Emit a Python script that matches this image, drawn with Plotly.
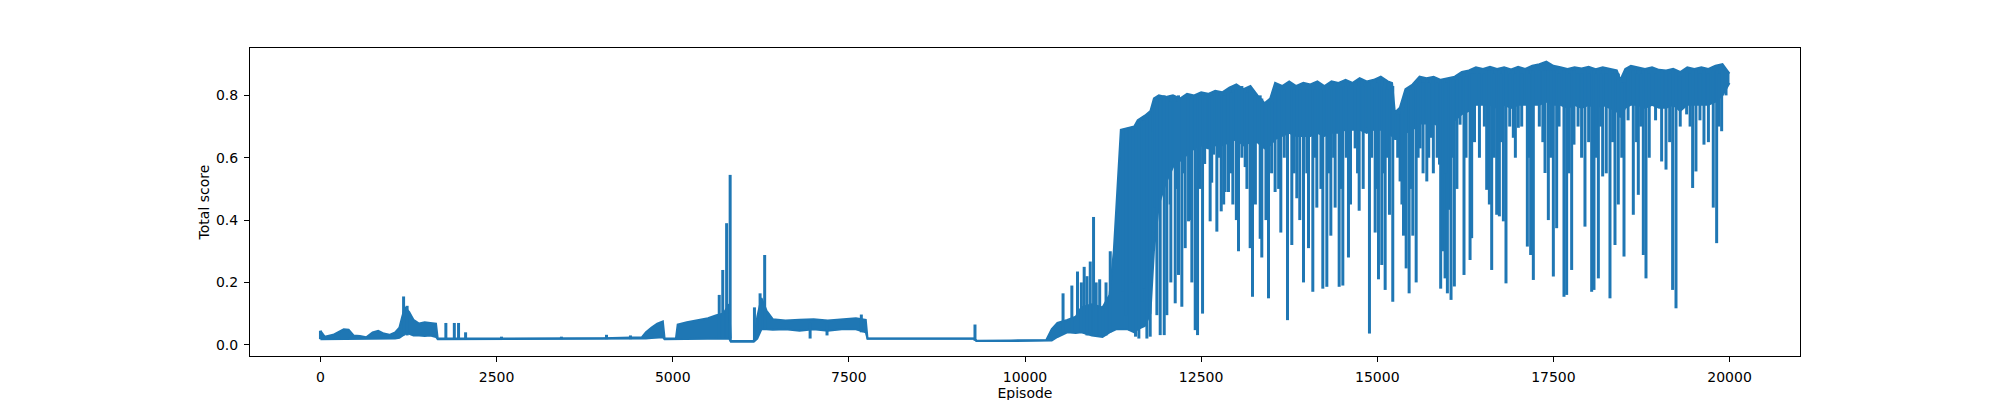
import plotly.graph_objects as go

LINE = "#1f77b4"
FONT = "DejaVu Sans, Arial, sans-serif"

# ---------------------------------------------------------------- data
# solid core of the trace: upper and lower edge of the dense band
band_ep = [
    0, 60, 180, 260, 330, 400, 470, 560, 650, 740,
    820, 900, 980, 1060, 1120, 1160, 1200, 1260, 1320, 1400,
    1480, 1560, 1640, 1665, 2200, 3000, 4000, 4560, 4620, 4700,
    4780, 4860, 4885, 5045, 5070, 5200, 5350, 5500, 5620, 5720,
    5800, 5825, 6150, 6200, 6260, 6330, 6420, 6600, 6800, 7000,
    7200, 7400, 7600, 7740, 7765, 9280, 9310, 9800, 10300, 10380,
    10460, 10600, 10720, 10800, 10950, 11100, 11200, 11260, 11300, 11340,
    11360, 11450, 11550, 11600, 11700, 11780, 11830, 11900, 12000, 12100,
    12200, 12300, 12400, 12500, 12600, 12700, 12800, 12900, 13000, 13100,
    13200, 13300, 13400, 13480, 13550, 13650, 13750, 13850, 13950, 14050,
    14150, 14250, 14350, 14450, 14550, 14650, 14750, 14850, 14950, 15050,
    15150, 15210, 15250, 15320, 15400, 15500, 15600, 15700, 15800, 15900,
    16000, 16100, 16200, 16300, 16400, 16500, 16600, 16700, 16800, 16900,
    17000, 17100, 17200, 17300, 17400, 17500, 17600, 17700, 17800, 17900,
    18000, 18100, 18200, 18300, 18400, 18450, 18520, 18600, 18700, 18800,
    18900, 19000, 19100, 19200, 19300, 19400, 19500, 19600, 19700, 19800,
    19900, 19999,
]
band_hi = [
    0.045, 0.026, 0.032, 0.042, 0.05, 0.048, 0.03, 0.028, 0.024, 0.04,
    0.045, 0.036, 0.032, 0.04, 0.055, 0.09, 0.12, 0.105, 0.08, 0.068,
    0.072, 0.07, 0.068, 0.02, 0.02, 0.021, 0.021, 0.024, 0.04, 0.055,
    0.068, 0.075, 0.02, 0.02, 0.065, 0.072, 0.078, 0.085, 0.095, 0.1,
    0.13, 0.012, 0.012, 0.09, 0.15, 0.11, 0.082, 0.078, 0.08, 0.082,
    0.078, 0.082, 0.085, 0.08, 0.02, 0.02, 0.013, 0.014, 0.015, 0.05,
    0.07, 0.08, 0.09, 0.12, 0.13, 0.12, 0.16, 0.3, 0.45, 0.62,
    0.69, 0.695, 0.7, 0.72, 0.735, 0.75, 0.79, 0.8, 0.795, 0.8,
    0.79, 0.805, 0.8, 0.81, 0.805, 0.815, 0.81, 0.825, 0.835, 0.82,
    0.83, 0.8, 0.775, 0.79, 0.84, 0.83, 0.845, 0.83, 0.84, 0.835,
    0.845, 0.83, 0.845, 0.84, 0.85, 0.84, 0.855, 0.845, 0.85, 0.86,
    0.845, 0.84, 0.745, 0.76, 0.82, 0.835, 0.86, 0.855, 0.86, 0.85,
    0.855, 0.86, 0.875, 0.88, 0.89, 0.885, 0.892, 0.885, 0.89, 0.883,
    0.892, 0.885, 0.895, 0.9, 0.908, 0.895, 0.89, 0.885, 0.89, 0.886,
    0.892, 0.884, 0.89, 0.886, 0.88, 0.85, 0.885, 0.895, 0.89, 0.885,
    0.89, 0.882, 0.88, 0.885, 0.875, 0.89, 0.885, 0.89, 0.885, 0.895,
    0.9, 0.87,
]
band_lo = [
    0.018, 0.018, 0.019, 0.02, 0.02, 0.02, 0.019, 0.018, 0.018, 0.02,
    0.02, 0.019, 0.019, 0.02, 0.022, 0.028, 0.035, 0.035, 0.03, 0.03,
    0.028, 0.03, 0.025, 0.018, 0.018, 0.018, 0.018, 0.019, 0.02, 0.022,
    0.024, 0.024, 0.018, 0.018, 0.018, 0.018, 0.018, 0.018, 0.018, 0.018,
    0.02, 0.01, 0.01, 0.02, 0.05, 0.05, 0.048, 0.05, 0.045, 0.05,
    0.045, 0.05, 0.05, 0.04, 0.019, 0.019, 0.012, 0.012, 0.012, 0.014,
    0.025, 0.04, 0.038, 0.04, 0.03, 0.025, 0.04, 0.045, 0.05, 0.05,
    0.05, 0.05, 0.04, 0.05, 0.06, 0.1, 0.3, 0.45, 0.52, 0.57,
    0.59, 0.61, 0.63, 0.64, 0.63, 0.64, 0.64, 0.65, 0.66, 0.64,
    0.65, 0.65, 0.63, 0.64, 0.66, 0.67, 0.68, 0.67, 0.67, 0.67,
    0.68, 0.67, 0.68, 0.68, 0.69, 0.69, 0.69, 0.68, 0.69, 0.69,
    0.68, 0.67, 0.66, 0.66, 0.68, 0.69, 0.71, 0.71, 0.71, 0.7,
    0.71, 0.72, 0.74, 0.75, 0.77, 0.77, 0.77, 0.76, 0.77, 0.76,
    0.77, 0.77, 0.77, 0.77, 0.78, 0.77, 0.77, 0.76, 0.77, 0.76,
    0.77, 0.76, 0.77, 0.76, 0.75, 0.73, 0.76, 0.77, 0.77, 0.76,
    0.77, 0.76, 0.76, 0.77, 0.75, 0.77, 0.77, 0.77, 0.77, 0.78,
    0.8, 0.84,
]

# single-episode excursions: peaks in the early part, dips later on
spike_ep = [
    0, 1180, 1230, 1780, 1900, 1960, 2060, 2570, 3420, 4060,
    4400, 5660, 5710, 5765, 5815, 6160, 6240, 6305, 6950, 7190,
    7677, 9290, 10540, 10665, 10745, 10840, 10926, 10973, 10800, 10880,
    11010, 11060, 11150, 11210,
    11389, 11436, 11484, 11531, 11569, 11616, 11659, 11692, 11730, 11777,
    11815, 11848, 11872, 11919, 11976, 12013, 12070, 12132, 12179, 12226,
    12274, 12321, 12368, 12416, 12449, 12520, 12572, 12628, 12676, 12723,
    12785, 12841, 12888, 12950, 13030, 13078, 13125, 13196, 13229, 13338,
    13361, 13456, 13550, 13631, 13726, 13787, 13858, 13953, 14024, 14085,
    14142, 14227, 14284, 14341, 14402, 14459, 14511, 14591, 14686, 14743,
    14828, 14889, 14970, 15017, 15064, 15112, 15173, 15220, 15324, 15372,
    15410, 15452, 15504, 15552, 15608, 15703, 15760, 15796, 15883, 15900,
    15938, 15962, 15995, 16023, 16047, 16094, 16175, 16231, 16317, 16340,
    16553, 16591, 16624, 16695, 16733, 16790, 16827, 16931, 17002, 17130,
    17177, 17215, 17381, 17428, 17499, 17546, 17650, 17688, 17759, 17792,
    17948, 18043, 18076, 18138, 18199, 18303, 18374, 18421, 18502, 18634,
    18705, 18776, 18814, 19036, 19098, 19192, 19240, 19391, 19476, 19523,
    19637, 19769, 19817, 19888,
    12060, 12150, 12250, 12350, 12480, 12550, 12650, 12750, 12820, 12920,
    13000, 13150, 13270, 13420, 13500, 13600, 13680, 13820, 13900, 14000,
    14110, 14200, 14310, 14380, 14480, 14560, 14620, 14720, 14800, 14920,
    15000, 15090, 15140, 15290, 15350, 15480, 15580, 15650, 15730, 15850,
    15980, 16070, 16130, 16260, 16380, 16450, 16520, 16660, 16760, 16880,
    16960, 17050, 17160, 17300, 17350, 17460, 17580, 17720, 17850, 17900,
    18000, 18110, 18170, 18250, 18340, 18470, 18560, 18680, 18740, 18860,
    18950, 19150, 19300, 19440, 19580, 19700, 19850, 19950,
]
spike_top = [
    0.045, 0.155, 0.125, 0.07, 0.07, 0.07, 0.04, 0.026, 0.026, 0.032,
    0.03, 0.16, 0.24, 0.39, 0.545, 0.12, 0.165, 0.288, 0.07, 0.07,
    0.097, 0.065, 0.165, 0.19, 0.235, 0.25, 0.267, 0.41, 0.2, 0.22,
    0.2, 0.21, 0.2, 0.3,
    0.69, 0.69, 0.69, 0.7, 0.7, 0.71, 0.72, 0.72, 0.73, 0.74,
    0.75, 0.78, 0.79, 0.79, 0.8, 0.79, 0.8, 0.79, 0.8, 0.79,
    0.8, 0.8, 0.8, 0.8, 0.8, 0.81, 0.8, 0.8, 0.81, 0.81,
    0.81, 0.81, 0.82, 0.82, 0.82, 0.83, 0.82, 0.82, 0.82, 0.8,
    0.79, 0.77, 0.83, 0.83, 0.84, 0.83, 0.83, 0.83, 0.83, 0.83,
    0.84, 0.83, 0.83, 0.84, 0.84, 0.83, 0.84, 0.84, 0.84, 0.85,
    0.84, 0.84, 0.85, 0.85, 0.85, 0.85, 0.84, 0.83, 0.74, 0.76,
    0.8, 0.82, 0.83, 0.84, 0.85, 0.85, 0.85, 0.85, 0.85, 0.85,
    0.85, 0.85, 0.85, 0.85, 0.85, 0.85, 0.86, 0.87, 0.87, 0.87,
    0.88, 0.88, 0.88, 0.88, 0.88, 0.88, 0.88, 0.88, 0.88, 0.88,
    0.88, 0.88, 0.88, 0.88, 0.88, 0.88, 0.88, 0.88, 0.88, 0.88,
    0.88, 0.88, 0.88, 0.88, 0.88, 0.88, 0.88, 0.87, 0.84, 0.88,
    0.88, 0.88, 0.88, 0.88, 0.88, 0.88, 0.88, 0.88, 0.88, 0.88,
    0.88, 0.88, 0.88, 0.88,
    0.78, 0.78, 0.79, 0.79, 0.8, 0.8, 0.8, 0.8, 0.8, 0.81,
    0.82, 0.81, 0.8, 0.77, 0.78, 0.82, 0.82, 0.82, 0.82, 0.82,
    0.82, 0.82, 0.82, 0.83, 0.83, 0.83, 0.83, 0.83, 0.83, 0.83,
    0.84, 0.83, 0.82, 0.74, 0.75, 0.82, 0.83, 0.84, 0.84, 0.84,
    0.84, 0.85, 0.85, 0.86, 0.87, 0.87, 0.87, 0.87, 0.87, 0.87,
    0.87, 0.87, 0.87, 0.88, 0.88, 0.88, 0.87, 0.87, 0.87, 0.87,
    0.87, 0.87, 0.87, 0.87, 0.87, 0.84, 0.87, 0.87, 0.87, 0.87,
    0.87, 0.87, 0.86, 0.87, 0.87, 0.87, 0.87, 0.88,
]
spike_bottom = [
    0.018, 0.03, 0.03, 0.018, 0.018, 0.018, 0.018, 0.018, 0.018, 0.018,
    0.018, 0.02, 0.02, 0.02, 0.02, 0.012, 0.05, 0.05, 0.02, 0.03,
    0.04, 0.013, 0.04, 0.04, 0.04, 0.04, 0.04, 0.03, 0.04, 0.03,
    0.03, 0.03, 0.03, 0.04,
    0.17, 0.095, 0.047, 0.2, 0.026, 0.02, 0.138, 0.18, 0.02, 0.026,
    0.685, 0.44, 0.095, 0.031, 0.031, 0.095, 0.2, 0.133, 0.224, 0.122,
    0.31, 0.396, 0.2, 0.047, 0.031, 0.1, 0.63, 0.396, 0.61, 0.363,
    0.428, 0.49, 0.49, 0.45, 0.3, 0.6, 0.57, 0.31, 0.154, 0.34,
    0.28, 0.149, 0.49, 0.36, 0.079, 0.32, 0.47, 0.2, 0.31, 0.17,
    0.44, 0.18, 0.186, 0.35, 0.44, 0.186, 0.19, 0.28, 0.63, 0.43,
    0.696, 0.036, 0.36, 0.21, 0.256, 0.176, 0.417, 0.138, 0.524, 0.35,
    0.245, 0.165, 0.35, 0.2, 0.63, 0.524, 0.664, 0.55, 0.578, 0.18,
    0.3, 0.213, 0.165, 0.433, 0.144, 0.187, 0.706, 0.224, 0.272, 0.342,
    0.497, 0.45, 0.24, 0.417, 0.412, 0.396, 0.197, 0.664, 0.696, 0.315,
    0.288, 0.208, 0.551, 0.4, 0.219, 0.374, 0.154, 0.16, 0.24, 0.642,
    0.379, 0.17, 0.176, 0.213, 0.54, 0.149, 0.32, 0.45, 0.283, 0.417,
    0.481, 0.288, 0.213, 0.588, 0.562, 0.176, 0.117, 0.739, 0.503, 0.556,
    0.642, 0.44, 0.326, 0.685,
    0.45, 0.5, 0.55, 0.4, 0.5, 0.58, 0.52, 0.6, 0.45, 0.55,
    0.4, 0.5, 0.45, 0.4, 0.55, 0.5, 0.6, 0.55, 0.4, 0.55,
    0.6, 0.5, 0.55, 0.6, 0.5, 0.6, 0.45, 0.55, 0.5, 0.6,
    0.5, 0.55, 0.6, 0.6, 0.45, 0.5, 0.6, 0.55, 0.6, 0.6,
    0.55, 0.6, 0.5, 0.6, 0.65, 0.6, 0.7, 0.6, 0.65, 0.7,
    0.6, 0.7, 0.6, 0.7, 0.65, 0.6, 0.7, 0.55, 0.7, 0.6,
    0.65, 0.6, 0.7, 0.55, 0.65, 0.6, 0.72, 0.65, 0.7, 0.6,
    0.72, 0.65, 0.7, 0.7, 0.72, 0.65, 0.7, 0.8,
]

x_ticks = [0, 2500, 5000, 7500, 10000, 12500, 15000, 17500, 20000]
x_labels = ["0", "2500", "5000", "7500", "10000", "12500", "15000", "17500", "20000"]
y_ticks = [0.0, 0.2, 0.4, 0.6, 0.8]
y_labels = ["0.0", "0.2", "0.4", "0.6", "0.8"]

# ---------------------------------------------------------------- figure
fig = go.Figure()

fig.add_scatter(
    x=band_ep, y=band_lo, mode="lines",
    line=dict(color=LINE, width=2), hoverinfo="skip", showlegend=False,
)
fig.add_scatter(
    x=band_ep, y=band_hi, mode="lines", fill="tonexty", fillcolor=LINE,
    line=dict(color=LINE, width=2), showlegend=False,
)

sx, sy = [], []
for ep, top, bot in zip(spike_ep, spike_top, spike_bottom):
    sx += [ep, ep, None]
    sy += [top, bot, None]
fig.add_scatter(
    x=sx, y=sy, mode="lines",
    line=dict(color=LINE, width=3), showlegend=False,
)

axis_common = dict(
    showline=True, linecolor="black", linewidth=1, mirror=True,
    ticks="outside", ticklen=5, tickwidth=1, tickcolor="black",
    ticklabelstandoff=3, automargin=False,
    showgrid=False, zeroline=False,
    tickfont=dict(family=FONT, size=14, color="black"),
)

# page body adds 8px, so margins are trimmed to land the axes box
# at 250..1800 x 48..356 like the matplotlib original
fig.update_layout(
    width=2000, height=400,
    margin=dict(l=242, r=208, t=40, b=52),
    paper_bgcolor="white", plot_bgcolor="white",
    font=dict(family=FONT, size=14, color="black"),
    xaxis=dict(
        range=[-1000, 21000], tickvals=x_ticks, ticktext=x_labels,
        title=dict(text="Episode", font=dict(family=FONT, size=14), standoff=2),
        **axis_common,
    ),
    yaxis=dict(
        range=[-0.036, 0.952], tickvals=y_ticks, ticktext=y_labels,
        title=dict(text="Total score", font=dict(family=FONT, size=14), standoff=3),
        **axis_common,
    ),
)

fig.write_html("out.html")
